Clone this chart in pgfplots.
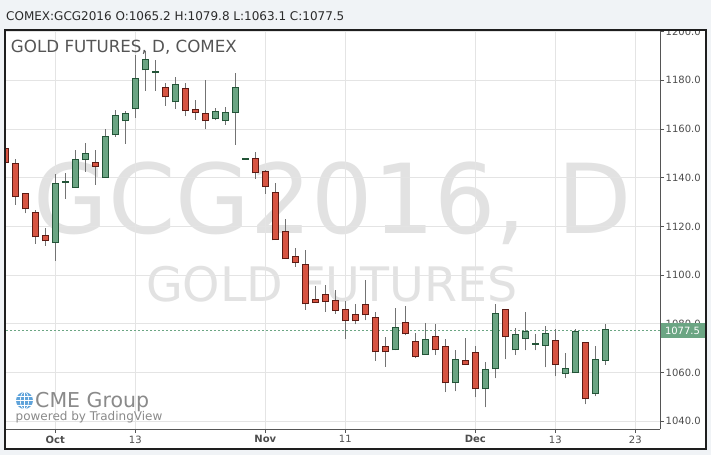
\documentclass[border=0pt]{standalone}
\usepackage{fontspec}
\setmainfont{DejaVu Sans}
\usepackage{pgfplots}
\pgfplotsset{compat=1.18}
\usepackage{pgfplotstable}

\definecolor{bgc}{HTML}{F0F3F6}
\definecolor{framec}{HTML}{1E1E1E}
\definecolor{axc}{HTML}{555555}
\definecolor{gridc}{HTML}{E4E4E4}
\definecolor{wickc}{HTML}{737373}
\definecolor{upf}{HTML}{6BA583}
\definecolor{upb}{HTML}{225437}
\definecolor{dnf}{HTML}{D75442}
\definecolor{dnb}{HTML}{5B1A13}
\definecolor{labc}{HTML}{4D4D4D}
\definecolor{wmc}{HTML}{E2E2E2}
\definecolor{titc}{HTML}{555555}
\definecolor{hdrc}{HTML}{2A2A2A}
\definecolor{logoc}{HTML}{8A8A8A}
\definecolor{globec}{HTML}{5FA3DA}

\pgfplotstableread{
i o h l c
6 1113.5 1141.4 1105.9 1137.3
7 1138.3 1141.8 1131.4 1138.3
8 1136.1 1151.4 1136.1 1147.2
9 1147.6 1154.1 1142.5 1149.6
11 1140.2 1160.0 1140.2 1156.6
12 1157.8 1167.8 1156.9 1165.2
13 1163.6 1167.3 1154.0 1166.1
14 1168.5 1190.4 1164.7 1180.4
15 1184.5 1192.2 1175.7 1188.2
16 1183.4 1188.4 1175.7 1183.4
18 1171.4 1181.2 1168.4 1178.0
22 1164.4 1168.5 1163.6 1166.9
23 1163.6 1169.1 1161.8 1166.5
24 1166.9 1183.1 1153.6 1176.7
25 1147.8 1147.8 1147.8 1147.8
40 1069.5 1086.4 1069.1 1078.2
43 1067.6 1080.2 1067.6 1073.2
46 1056.0 1069.1 1052.3 1065.0
49 1053.5 1064.2 1045.7 1060.9
50 1061.7 1088.0 1057.6 1083.9
52 1069.5 1078.2 1067.1 1075.3
53 1074.1 1084.7 1069.1 1076.5
54 1071.8 1075.7 1069.1 1071.8
55 1071.2 1079.0 1062.1 1075.7
57 1059.7 1067.9 1057.6 1061.3
58 1060.1 1077.8 1060.1 1076.5
60 1051.5 1070.8 1050.2 1065.0
61 1065.2 1079.8 1063.1 1077.5
}\updata

\pgfplotstableread{
i o h l c
1 1151.7 1152.5 1145.5 1146.3
2 1145.5 1147.7 1128.9 1132.4
3 1133.2 1133.6 1125.4 1127.4
4 1125.4 1126.7 1112.9 1115.9
5 1115.9 1119.4 1112.1 1114.3
10 1145.9 1151.4 1137.1 1144.9
17 1176.7 1178.8 1169.6 1173.4
19 1176.3 1178.8 1165.2 1167.7
20 1167.7 1171.8 1163.8 1166.9
21 1166.1 1180.0 1159.9 1163.6
26 1147.6 1150.4 1139.6 1142.2
27 1142.2 1143.2 1133.4 1136.5
28 1133.6 1137.7 1114.7 1114.7
29 1117.6 1123.0 1106.9 1106.9
30 1107.3 1111.0 1103.5 1105.3
31 1104.0 1110.2 1085.7 1088.4
32 1089.7 1095.4 1088.9 1088.9
33 1091.7 1095.8 1085.0 1089.3
34 1089.3 1093.8 1084.2 1085.6
35 1085.6 1089.3 1073.9 1081.4
36 1083.5 1088.0 1079.8 1081.4
37 1087.6 1098.0 1081.4 1083.9
38 1082.3 1084.7 1064.9 1068.7
39 1070.4 1074.5 1062.4 1068.7
41 1080.2 1087.2 1075.3 1076.1
42 1072.4 1076.1 1065.8 1066.7
44 1074.5 1079.8 1067.1 1069.5
45 1070.4 1073.6 1051.9 1056.0
47 1064.6 1074.1 1063.0 1063.4
48 1067.9 1070.8 1049.8 1053.5
51 1085.6 1086.0 1065.4 1074.9
56 1072.8 1077.8 1058.4 1063.4
59 1072.0 1072.4 1046.9 1049.4
}\dndata

\pgfplotsset{
  wick/.style={draw=none, mark=none, forget plot,
    error bars/.cd, y dir=plus, y explicit, error mark=none,
    error bar style={draw=wickc, line width=1.1bp}},
  body/.style 2 args={draw=none, mark=none, forget plot,
    error bars/.cd, y dir=plus, y explicit, error mark=none,
    error bar style={draw=#1, line width=#2}},
}

\begin{document}
\begin{tikzpicture}
\fill[bgc] (0,0) rectangle (711bp,-455bp);
\fill[white] (5bp,-30bp) rectangle (706bp,-449bp);
\node[text=wmc, font=\fontsize{96.5bp}{98bp}\selectfont, anchor=base, inner sep=0] at (332.5bp,-233bp) {GCG2016, D};
\node[text=wmc, font=\fontsize{47.5bp}{48bp}\selectfont, anchor=base, inner sep=0] at (331.7bp,-301.7bp) {GOLD FUTURES};
\begin{axis}[
  at={(6bp,-429bp)}, anchor=south west,
  scale only axis, width=654bp, height=398.5bp,
  xmin=1.07, xmax=66.47, ymin=1036.8, ymax=1200.46,
  axis x line*=bottom, axis y line*=right,
  axis line style={-, draw=axc, line width=1bp},
  tick align=outside, major tick length=4bp,
  tick style={draw=axc, line width=1bp},
  grid=major, major grid style={draw=gridc, line width=1bp},
  xtick={6,14,27,35,48,56,64},
  xticklabels={\textbf{Oct},13,\textbf{Nov},11,\textbf{Dec},13,23},
  ytick={1040,1060,1080,1100,1120,1140,1160,1180,1200},
  yticklabels={1040.0,1060.0,1080.0,1100.0,1120.0,1140.0,1160.0,1180.0,1200.0},
  ticklabel style={font=\fontsize{10bp}{12bp}\selectfont, text=labc},
  yticklabel style={inner sep=1.5bp},
  xticklabel style={inner sep=2.5bp},
]
\addplot[upf, dash pattern=on 2bp off 2bp, line width=0.8bp, forget plot] coordinates {(1.07,1077.5) (66.47,1077.5)};
\addplot[wick] table[x=i, y=l, y error plus expr={\thisrow{h}-\thisrow{l}}] \updata;
\addplot[wick] table[x=i, y=l, y error plus expr={\thisrow{h}-\thisrow{l}}] \dndata;
\addplot[body={upb}{6.5bp}] table[x=i, y expr={min(\thisrow{o},\thisrow{c})-0.41}, y error plus expr={abs(\thisrow{c}-\thisrow{o})+0.82}] \updata;
\addplot[body={upf}{4.5bp}] table[x=i, y expr={min(\thisrow{o},\thisrow{c})}, y error plus expr={abs(\thisrow{c}-\thisrow{o})}] \updata;
\addplot[body={dnb}{6.5bp}] table[x=i, y expr={min(\thisrow{o},\thisrow{c})-0.41}, y error plus expr={abs(\thisrow{c}-\thisrow{o})+0.82}] \dndata;
\addplot[body={dnf}{4.5bp}] table[x=i, y expr={min(\thisrow{o},\thisrow{c})}, y error plus expr={abs(\thisrow{c}-\thisrow{o})}] \dndata;
\end{axis}
% header band
\fill[bgc] (0,0) rectangle (711bp,-29.5bp);
\node[anchor=base west, inner sep=0, text=hdrc, font=\fontsize{12bp}{14bp}\selectfont] at (6bp,-20bp) {COMEX:GCG2016 O:1065.2 H:1079.8 L:1063.1 C:1077.5};
\draw[framec, line width=1.2bp] (5bp,-30bp) rectangle (706bp,-449bp);
\node[anchor=base west, inner sep=0, text=titc, font=\fontsize{16.7bp}{19bp}\selectfont] at (10.8bp,-52.7bp) {GOLD FUTURES, D, COMEX};
% last price box
\fill[upf] (660.5bp,-322.5bp) rectangle (705bp,-338bp);
\node[text=white, font=\fontsize{10bp}{12bp}\selectfont, inner sep=0] at (682.5bp,-330.5bp) {1077.5};
% logo
\fill[globec] (24.5bp,-400.5bp) circle (8.5bp);
\draw[white, line width=0.6bp] (16bp,-400.5bp) -- (33bp,-400.5bp);
\draw[white, line width=0.6bp] (17.2bp,-396bp) -- (31.8bp,-396bp);
\draw[white, line width=0.6bp] (17.2bp,-405bp) -- (31.8bp,-405bp);
\draw[white, line width=0.6bp] (24.5bp,-392bp) -- (24.5bp,-409bp);
\draw[white, line width=0.6bp] (24.5bp,-400.5bp) ellipse (4.2bp and 8.5bp);
\node[anchor=base west, inner sep=0, text=logoc, font=\fontsize{20.5bp}{22bp}\selectfont] at (35bp,-407.3bp) {CME Group};
\node[anchor=base west, inner sep=0, text=logoc, font=\fontsize{12bp}{14bp}\selectfont] at (15.5bp,-420bp) {powered by TradingView};
\pgfresetboundingbox
\useasboundingbox (0,0) rectangle (711bp,-455bp);
\end{tikzpicture}
\end{document}
